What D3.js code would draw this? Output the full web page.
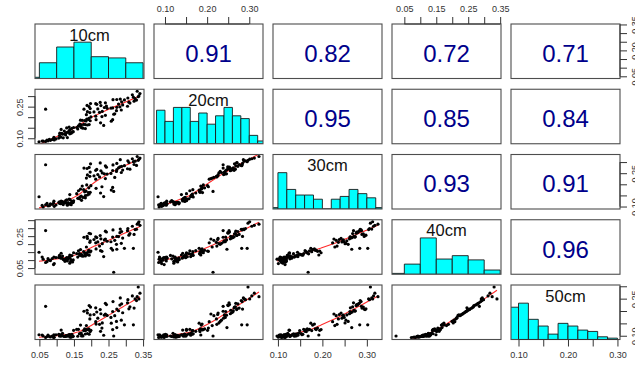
<!DOCTYPE html>
<html><head><meta charset="utf-8">
<script src="https://cdn.jsdelivr.net/npm/d3@7"></script>
<style>
body{margin:0;background:#fff}
svg{display:block}
text{font-family:"Liberation Sans",Arial,sans-serif}
</style>
</head><body>
<svg id="chart" width="635" height="365"></svg>
<script>
// ---------- data (soil moisture at five depths, one entry per observation) ----------
const depths = ["10cm","20cm","30cm","40cm","50cm"];

const m10 = [
0.061,0.068,0.075,0.082,0.058,0.093,0.087,0.079,0.072,0.098,
0.091,0.119,0.106,0.131,0.112,0.138,0.115,0.142,0.128,0.146,
0.135,0.124,0.109,0.141,0.133,0.148,0.122,
0.092,0.108,0.126,0.117,0.139,0.113,0.161,0.144,0.172,0.136,0.149,0.183,0.129,0.166,
0.049,0.138,0.176,0.158,0.236,0.189,0.167,0.194,0.171,0.183,
0.265,0.163,0.178,0.227,0.185,0.169,0.192,0.181,0.258,0.197,
0.174,0.214,0.187,0.193,0.231,0.262,0.199,
0.213,0.241,0.186,0.268,0.224,0.196,0.208,
0.232,0.273,0.189,0.287,0.246,0.197,0.219,0.257,0.238,
0.179,0.283,0.262,0.305,0.274,0.228,0.194,0.291,0.244,0.216,0.213,0.188,0.312,0.279,
0.068,0.296,0.198,0.309,0.241,0.324,0.288,0.226,0.331,0.274,0.263,
0.322,0.327,0.306,0.336,0.284,0.338,0.319,0.341,
0.333];

const m20 = [
0.086,0.085,0.088,0.090,0.087,0.092,0.094,0.095,0.091,0.097,
0.098,0.102,0.101,0.103,0.105,0.121,0.123,0.124,0.127,0.130,
0.133,0.121,0.124,0.126,0.128,0.131,0.134,
0.104,0.113,0.116,0.119,0.141,0.142,0.144,0.147,0.150,0.153,0.151,0.146,0.149,0.157,
0.0835,0.139,0.148,0.151,0.161,0.163,0.167,0.165,0.162,0.165,
0.214,0.159,0.166,0.173,0.182,0.186,0.189,0.184,0.181,0.183,
0.185,0.188,0.191,0.194,0.203,0.188,0.201,
0.205,0.209,0.212,0.216,0.223,0.222,0.225,
0.228,0.231,0.226,0.234,0.242,0.241,0.239,0.243,0.246,
0.238,0.249,0.244,0.252,0.247,0.255,0.250,0.258,0.253,0.261,0.264,0.256,0.267,0.262,
0.238,0.282,0.265,0.271,0.268,0.276,0.273,0.270,0.281,0.284,0.283,
0.295,0.288,0.291,0.297,0.286,0.301,0.306,0.312,
0.323];

const m30 = [
0.098,0.108,0.103,0.112,0.105,0.101,0.110,0.104,0.114,0.107,
0.116,0.109,0.118,0.106,0.113,0.111,0.119,0.108,0.115,0.117,
0.112,0.119,0.114,0.116,0.118,0.119,0.117,
0.124,0.121,0.127,0.122,0.131,0.125,0.137,0.123,0.128,0.133,0.126,0.139,0.130,0.135,
0.144,0.154,0.141,0.158,0.145,0.152,0.143,0.156,0.147,0.149,
0.168,0.171,0.176,0.161,0.169,0.178,0.163,0.166,0.174,0.164,
0.192,0.182,0.197,0.184,0.189,0.186,0.194,
0.223,0.226,0.228,0.231,0.233,0.236,0.238,
0.251,0.258,0.242,0.253,0.246,0.255,0.244,0.249,0.247,
0.273,0.279,0.262,0.270,0.266,0.261,0.276,0.264,0.277,0.267,0.263,0.271,0.268,0.274,
0.288,0.284,0.292,0.298,0.283,0.289,0.281,0.296,0.285,0.294,0.287,
0.302,0.304,0.306,0.308,0.311,0.313,0.315,0.318,
0.325];

const m40 = [
0.106,0.085,0.109,0.097,0.119,0.078,0.110,0.099,0.090,0.116,
0.072,0.104,0.117,0.095,0.112,0.081,0.113,0.098,0.108,0.088,
0.114,0.092,0.118,0.093,0.107,0.101,0.103,
0.118,0.129,0.108,0.125,0.112,0.143,0.119,0.128,0.127,0.121,0.146,0.126,0.115,0.140,
0.149,0.132,0.124,0.141,0.122,0.134,0.130,0.131,0.136,0.138,
0.024,0.158,0.153,0.159,0.139,0.166,0.152,0.145,0.174,0.151,
0.132,0.170,0.146,0.161,0.155,0.163,0.157,
0.208,0.232,0.182,0.224,0.188,0.211,0.229,
0.203,0.199,0.236,0.205,0.218,0.221,0.214,0.215,0.226,
0.243,0.272,0.244,0.284,0.168,0.233,0.268,0.238,0.276,0.241,0.246,0.249,0.266,0.247,
0.285,0.174,0.265,0.256,0.281,0.261,0.279,0.254,0.293,0.248,0.289,
0.174,0.291,0.298,0.331,0.294,0.340,0.312,0.318,
0.325];

const m50 = [
0.099,0.093,0.103,0.095,0.103,0.094,0.099,0.097,0.097,0.104,
0.093,0.099,0.106,0.098,0.098,0.095,0.102,0.096,0.101,0.096,
0.101,0.099,0.105,0.094,0.102,0.098,0.097,
0.104,0.099,0.097,0.110,0.103,0.123,0.098,0.106,0.099,0.105,0.122,0.107,0.101,0.108,
0.104,0.104,0.099,0.126,0.102,0.109,0.108,0.106,0.111,0.121,
0.099,0.126,0.121,0.118,0.124,0.143,0.124,0.128,0.151,0.117,
0.103,0.147,0.125,0.128,0.131,0.125,0.122,
0.157,0.188,0.141,0.181,0.146,0.168,0.186,
0.152,0.158,0.192,0.163,0.182,0.184,0.171,0.174,0.183,
0.199,0.224,0.198,0.233,0.133,0.189,0.222,0.193,0.226,0.196,0.213,0.203,0.217,0.201,
0.219,0.144,0.216,0.209,0.231,0.212,0.229,0.206,0.242,0.208,0.238,
0.144,0.249,0.246,0.297,0.253,0.249,0.261,0.272,
0.258];

// correlations shown in the upper triangle (row by row)
const corrLabels = ["0.91","0.82","0.72","0.71","0.95","0.85","0.84","0.93","0.91","0.96"];
// histogram bin widths per depth
const binWidths = [0.05,0.02,0.02,0.05,0.02];
// tick labels that are printed on the outer axes
const ticks10Bottom = ["0.05","0.15","0.25","0.35"];
const ticks10Right  = ["0.05","0.20","0.35"];
const ticks20Top    = ["0.10","0.20","0.30"];
const ticks20Left   = ["0.10","0.25"];
const ticks30Bottom = ["0.10","0.20","0.30"];
const ticks30Right  = ["0.10","0.25"];
const ticks40Top    = ["0.05","0.15","0.25","0.35"];
const ticks40Left   = ["0.05","0.25"];
const ticks50Bottom = ["0.10","0.20","0.30"];
const ticks50Right  = ["0.10","0.25"];

// ---------- layout ----------
const data = [m10, m20, m30, m40, m50];
const nVar = depths.length;
const mLeft = 35, mTop = 24, pw = 109, ph = 54.5, gapX = 10, gapY = 10.75;
const px = j => mLeft + j * (pw + gapX);
const py = i => mTop + i * (ph + gapY);

const svg = d3.select("#chart");
svg.append("rect").attr("width",635).attr("height",365).attr("fill","#fff");

const xs = data.map((d, k) => {
  const [a, b] = d3.extent(d); const r = b - a;
  return d3.scaleLinear().domain([a - 0.04 * r, b + 0.04 * r]).range([px(k), px(k) + pw]);
});
const ys = data.map((d, k) => {
  const [a, b] = d3.extent(d); const r = b - a;
  return d3.scaleLinear().domain([a - 0.04 * r, b + 0.04 * r]).range([py(k) + ph, py(k)]);
});

const defs = svg.append("defs");
for (let i = 0; i < nVar; i++) for (let j = 0; j < nVar; j++) {
  defs.append("clipPath").attr("id", `c${i}${j}`)
    .append("rect").attr("x", px(j)).attr("y", py(i)).attr("width", pw).attr("height", ph);
}

// R-style lowess smoother
function lowess(xv, yv, f = 2/3, iter = 3) {
  const N = xv.length;
  const order = d3.range(N).sort((a, b) => xv[a] - xv[b]);
  const x = order.map(i => xv[i]), y = order.map(i => yv[i]);
  const ns = Math.max(2, Math.min(N, Math.floor(f * N + 1e-7)));
  const rw = new Array(N).fill(1), fit = new Array(N).fill(0);
  const range = x[N - 1] - x[0];
  for (let it = 0; it <= iter; it++) {
    for (let i = 0; i < N; i++) {
      const dd = x.map(v => Math.abs(v - x[i])).sort((a, b) => a - b);
      const h = Math.max(dd[ns - 1], 1e-12);
      const w = new Array(N); let sw = 0, swx = 0, swy = 0;
      for (let j = 0; j < N; j++) {
        const r = Math.abs(x[j] - x[i]);
        let wj = 0;
        if (r <= 0.999 * h) wj = r <= 0.001 * h ? 1 : Math.pow(1 - Math.pow(r / h, 3), 3);
        wj *= rw[j]; w[j] = wj; sw += wj; swx += wj * x[j]; swy += wj * y[j];
      }
      if (sw <= 0) { fit[i] = y[i]; continue; }
      const mx = swx / sw, my = swy / sw;
      let sxx = 0, sxy = 0;
      for (let j = 0; j < N; j++) { sxx += w[j] * (x[j] - mx) ** 2; sxy += w[j] * (x[j] - mx) * (y[j] - my); }
      const b = Math.sqrt(sxx / sw) > 0.001 * range ? sxy / sxx : 0;
      fit[i] = my + b * (x[i] - mx);
    }
    if (it === iter) break;
    const res = y.map((v, i) => v - fit[i]);
    const cmad = 6 * d3.median(res.map(Math.abs));
    if (cmad < 1e-12) break;
    for (let j = 0; j < N; j++) { const u = Math.abs(res[j]) / cmad; rw[j] = u < 1 ? (1 - u * u) ** 2 : 0; }
  }
  return x.map((v, i) => [v, fit[i]]);
}

let ci = 0;
for (let i = 0; i < nVar; i++) {
  for (let j = 0; j < nVar; j++) {
    const g = svg.append("g");
    const cx = px(j) + pw / 2, cy = py(i) + ph / 2;
    if (i === j) {
      const d = data[i], w = binWidths[i];
      const [mn, mx] = d3.extent(d);
      const lo = Math.floor(mn / w + 1e-9), hi = Math.ceil(mx / w - 1e-9);
      const breaks = d3.range(lo, hi + 1).map(k => +(k * w).toFixed(4));
      const bins = d3.bin().domain([breaks[0], breaks[breaks.length - 1]])
        .thresholds(breaks.slice(1, -1))(d);
      const maxc = d3.max(bins, b => b.length);
      const hy = d3.scaleLinear().domain([0, 1.5]).range([py(i) + ph, py(i)]);
      const hg = g.append("g").attr("clip-path", `url(#c${i}${j})`);
      hg.selectAll("path").data(bins).join("path")
        .attr("d", b => {
          const x0 = xs[j](b.x0), x1 = xs[j](b.x1), y0 = hy(0), y1 = hy(b.length / maxc);
          return `M${x0},${y0}V${y1}H${x1}V${y0}Z`;
        })
        .attr("fill", "#00ffff").attr("stroke", "#1a1a1a").attr("stroke-width", 0.9);
      g.append("text").attr("x", cx).attr("y", py(i) + 16.5)
        .attr("text-anchor", "middle").attr("font-size", 16.5).attr("fill", "#111")
        .text(depths[i]);
    } else if (i > j) {
      const xv = data[j], yv = data[i];
      const sm = lowess(xv, yv);
      g.append("path").attr("clip-path", `url(#c${i}${j})`)
        .attr("d", d3.line().x(p => xs[j](p[0])).y(p => ys[i](p[1]))(sm))
        .attr("fill", "none").attr("stroke", "#ff2a2a").attr("stroke-width", 1.1);
      g.selectAll("circle").data(d3.range(xv.length)).join("circle")
        .attr("cx", k => xs[j](xv[k])).attr("cy", k => ys[i](yv[k]))
        .attr("r", 1.6).attr("fill", "#000");
    } else {
      g.append("text").attr("x", cx).attr("y", cy + 10.5)
        .attr("text-anchor", "middle").attr("font-size", 24).attr("fill", "#00008b")
        .text(corrLabels[ci++]);
    }
    svg.append("rect").attr("x", px(j)).attr("y", py(i)).attr("width", pw).attr("height", ph)
      .attr("fill", "none").attr("stroke", "#4d4d4d").attr("stroke-width", 1.1);
  }
}

// ---------- outer axes ----------
const fmt = d3.format(".2f");
function drawAxis(k, side, labels) {
  const scale = (side === "top" || side === "bottom") ? xs[k] : ys[k];
  const gen = { top: d3.axisTop, bottom: d3.axisBottom, left: d3.axisLeft, right: d3.axisRight }[side](scale)
    .ticks(5).tickSize(7).tickSizeOuter(0).tickPadding(5.3)
    .tickFormat(d => labels.includes(fmt(d)) ? fmt(d) : "");
  let tr;
  if (side === "top") tr = `translate(0,${py(0)})`;
  if (side === "bottom") tr = `translate(0,${py(nVar - 1) + ph})`;
  if (side === "left") tr = `translate(${px(0)},0)`;
  if (side === "right") tr = `translate(${px(nVar - 1) + pw},0)`;
  const g = svg.append("g").attr("transform", tr).call(gen);
  g.select(".domain").remove();
  const tv = scale.ticks(5);
  const a = scale(tv[0]), b = scale(tv[tv.length - 1]);
  if (side === "top" || side === "bottom") g.append("line").attr("x1", a).attr("x2", b).attr("stroke", "#333");
  else g.append("line").attr("y1", a).attr("y2", b).attr("stroke", "#333");
  g.selectAll(".tick line").attr("stroke", "#333");
  g.selectAll(".tick text").attr("fill", "#333").attr("font-size", 9)
    .style("font-family", '"Liberation Sans",Arial,sans-serif');
  if (side === "left") {
    g.selectAll(".tick text").attr("transform", "rotate(-90)").attr("x", 0).attr("y", -11.7)
      .attr("dy", 0).attr("text-anchor", "middle");
  }
  if (side === "right") {
    g.selectAll(".tick text").attr("transform", "rotate(-90)").attr("x", 0).attr("y", 18)
      .attr("dy", 0).attr("text-anchor", "middle");
  }
}
drawAxis(1, "top", ticks20Top);
drawAxis(3, "top", ticks40Top);
drawAxis(0, "bottom", ticks10Bottom);
drawAxis(2, "bottom", ticks30Bottom);
drawAxis(4, "bottom", ticks50Bottom);
drawAxis(1, "left", ticks20Left);
drawAxis(3, "left", ticks40Left);
drawAxis(0, "right", ticks10Right);
drawAxis(2, "right", ticks30Right);
drawAxis(4, "right", ticks50Right);
</script>
</body></html>
